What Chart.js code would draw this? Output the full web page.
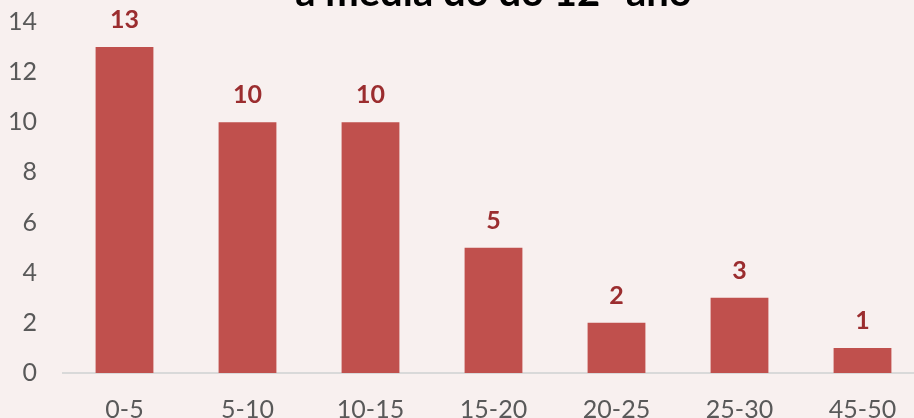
<!DOCTYPE html>
<html>
<head>
<meta charset="utf-8">
<script src="https://cdn.jsdelivr.net/npm/chart.js@4"></script>
<style>
    html, body { margin: 0; padding: 0; overflow: hidden; background: #f8f0ef; }
    body { width: 914px; height: 418px; position: relative; }
    #wrap { position: absolute; left: 0; top: -40px; width: 930px; height: 458px; }
</style>
</head>
<body>
<div id="wrap"><canvas id="chart"></canvas></div>
<script>
    let categories = ["0-5", "5-10", "10-15", "15-20", "20-25", "25-30", "45-50"];
    let counts = [13, 10, 10, 5, 2, 3, 1];
    let titleText = "a média do do 12º ano";

    // values written above each bar
    const valueLabels = {
        id: 'valueLabels',
        afterDatasetsDraw(chart) {
            const ctx = chart.ctx;
            const meta = chart.getDatasetMeta(0);
            ctx.save();
            ctx.font = 'bold 25px Lato';
            ctx.fillStyle = '#9b2d2f';
            ctx.textAlign = 'center';
            ctx.textBaseline = 'alphabetic';
            meta.data.forEach((bar, i) => {
                ctx.fillText(chart.data.datasets[0].data[i], bar.x, bar.y - 19);
            });
            ctx.restore();
        }
    };

    let data = {
        labels: categories,
        datasets: [{
            data: counts,
            backgroundColor: '#c0504d',
            barPercentage: 0.47,
            categoryPercentage: 1
        }]
    }

    const config = {
        type: 'bar',
        data: data,
        options: {
            responsive: true,
            maintainAspectRatio: false,
            animation: false,
            layout: {
                padding: { left: 0, right: 6, top: 0, bottom: 0 }
            },
            scales: {
                x: {
                    grid: { display: false, drawTicks: false },
                    border: { display: true, color: '#d9d9d9', width: 2 },
                    ticks: {
                        color: '#595959',
                        font: { family: 'Lato', size: 25 },
                        padding: 22,
                        maxRotation: 0
                    },
                    afterFit(scale) { scale.height = 45; }
                },
                y: {
                    min: 0,
                    max: 14,
                    grid: { display: false, drawTicks: false },
                    border: { display: false },
                    ticks: {
                        stepSize: 2,
                        color: '#595959',
                        font: { family: 'Lato', size: 25 },
                        padding: 26
                    },
                    afterFit(scale) { scale.width = 63; }
                }
            },
            plugins: {
                legend: { display: false },
                tooltip: { enabled: false },
                title: {
                    display: true,
                    fullSize: false,
                    text: titleText,
                    color: '#000000',
                    font: { family: 'Lato', size: 40, weight: 'bold' },
                    padding: { top: 9.5, bottom: 4.5 }
                }
            }
        },
        plugins: [valueLabels]
    }

    new Chart(document.getElementById('chart'), config);
</script>
</body>
</html>
